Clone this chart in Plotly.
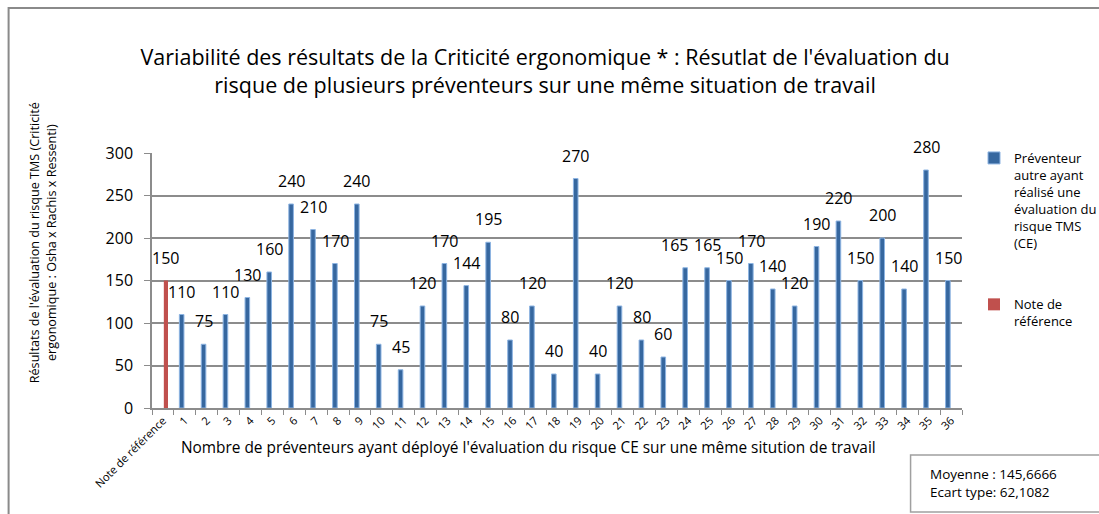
import plotly.graph_objects as go

# Data
categories = ["Note de référence"] + [str(i) for i in range(1, 37)]
reference_value = [150]
preventeur_labels = [str(i) for i in range(1, 37)]
preventeur_values = [110, 75, 110, 130, 160, 240, 210, 170, 240, 75,
                     45, 120, 170, 144, 195, 80, 120, 40, 270, 40,
                     120, 80, 60, 165, 165, 150, 170, 140, 120, 190,
                     220, 150, 200, 140, 280, 150]
y_ticks = [0, 50, 100, 150, 200, 250, 300]

W, H = 1099, 514
L, R, T, B = 152, 971, 153, 408  # plot area in pixels
FONT = "Open Sans"

# labels nudged sideways so neighbours do not collide
label_nudge = {"24": -11}


def px_x(p):
    return (p - L) / (R - L)


def px_y(p):
    return (B - p) / (B - T)


BLUE = "#36679F"
BLUE_EDGE = "#8DB4E2"
RED = "#C0504D"
GRID = "#8C8C8C"

fig = go.Figure()
fig.add_trace(go.Bar(
    x=preventeur_labels, y=preventeur_values,
    name="Préventeur<br>autre ayant<br>réalisé une<br>évaluation du<br>risque TMS<br>(CE)",
    marker=dict(color=BLUE, line=dict(color=BLUE_EDGE, width=1)),
    offset=-0.25, width=0.21, legendgroup="a",
))
fig.add_trace(go.Bar(
    x=["Note de référence"], y=reference_value,
    name="Note de<br>référence",
    marker=dict(color=RED, line=dict(width=0)),
    offset=0.04, width=0.19, legendgroup="b",
))

label_font = dict(family=FONT, size=16, color="#000")
annotations = []
# value labels above each bar
for c, v in zip(preventeur_labels, preventeur_values):
    annotations.append(dict(x=c, y=v, xref="x", yref="y", text=str(v),
                            showarrow=False, yshift=23, xshift=-3 + label_nudge.get(c, 0),
                            font=label_font))
annotations.append(dict(x="Note de référence", y=reference_value[0], xref="x", yref="y",
                        text=str(reference_value[0]), showarrow=False, yshift=23, xshift=3,
                        font=label_font))

# axis titles
annotations.append(dict(x=px_x(533), y=px_y(447), xref="paper", yref="paper",
                        xanchor="center", yanchor="middle",
                        text="Nombre de préventeurs ayant déployé l'évaluation du risque CE sur une même sitution de travail",
                        showarrow=False, font=dict(family=FONT, size=15.4, color="#000")))
annotations.append(dict(x=px_x(41), y=px_y(243), xref="paper", yref="paper",
                        xanchor="center", yanchor="middle",
                        text="Résultats de l'évaluation du risque TMS (Criticité<br>ergonomique : Osha x Rachis x Ressenti)",
                        textangle=-90, showarrow=False,
                        font=dict(family=FONT, size=12.6, color="#000")))
# statistics box text
annotations.append(dict(x=px_x(937), y=px_y(483), xref="paper", yref="paper",
                        text="Moyenne : 145,6666<br>Ecart type: 62,1082", align="left",
                        xanchor="left", yanchor="middle", showarrow=False,
                        font=dict(family=FONT, size=13.5, color="#000")))

shapes = [
    # outer chart border
    dict(type="rect", xref="paper", yref="paper",
         x0=px_x(7), x1=px_x(1120), y0=px_y(8), y1=px_y(530),
         line=dict(color="#8A8A8A", width=2), fillcolor="rgba(0,0,0,0)", layer="below"),
    # statistics box
    dict(type="rect", xref="paper", yref="paper",
         x0=px_x(919), x1=px_x(1120), y0=px_y(455), y1=px_y(512),
         line=dict(color="#A0A0A0", width=1.5), fillcolor="white"),
]

fig.update_layout(
    width=W, height=H,
    margin=dict(l=L, r=W - R, t=T, b=H - B, pad=0),
    paper_bgcolor="white", plot_bgcolor="white",
    barmode="overlay",
    title=dict(text="Variabilité des résultats de la Criticité ergonomique * : Résutlat de l'évaluation du<br>risque de plusieurs préventeurs sur une même situation de travail",
               x=0.496, xref="container", xanchor="center", y=1 - 65 / H, yanchor="middle",
               font=dict(family=FONT, size=21.5, color="#000")),
    font=dict(family=FONT, color="#000"),
    showlegend=True,
    legend=dict(xref="container", yref="container", x=974 / W, y=1 - 143 / H,
                xanchor="left", yanchor="top", valign="top",
                tracegroupgap=42, itemwidth=30,
                font=dict(family=FONT, size=13, color="#000"),
                bgcolor="rgba(0,0,0,0)"),
    annotations=annotations,
    shapes=shapes,
)
fig.update_xaxes(type="category", categoryorder="array", categoryarray=categories,
                 range=[-0.5, len(categories) - 0.5],
                 tickangle=-45, tickson="boundaries", ticks="outside", ticklen=5,
                 tickcolor=GRID, showline=True, linecolor=GRID, linewidth=1.5,
                 showgrid=False, tickfont=dict(family=FONT, size=11.2, color="#000"))
fig.update_yaxes(range=[0, 300], tickvals=y_ticks, ticks="outside", ticklen=6,
                 tickcolor=GRID, showline=True, linecolor=GRID, linewidth=1.5,
                 showgrid=True, gridcolor=GRID, gridwidth=1.5, zeroline=False,
                 ticklabelstandoff=8,
                 tickfont=dict(family=FONT, size=16, color="#000"))

fig.write_html("out.html")
